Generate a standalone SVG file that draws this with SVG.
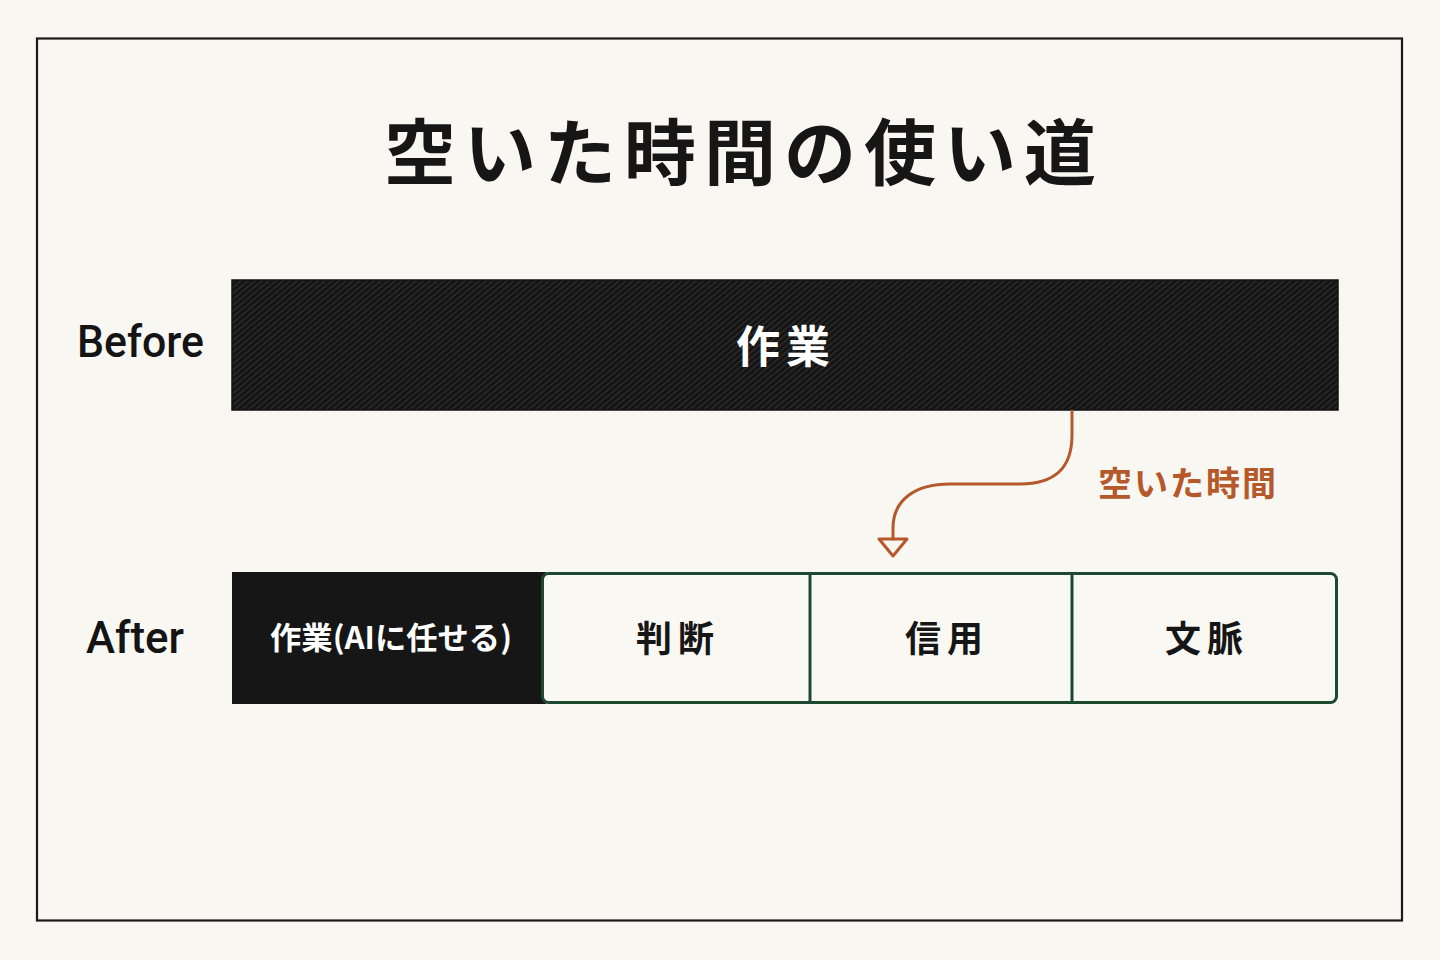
<svg xmlns="http://www.w3.org/2000/svg" width="1440" height="960" viewBox="0 0 1440 960">
  <defs>
    <pattern id="stripes" width="4.5" height="10" patternUnits="userSpaceOnUse" patternTransform="rotate(50)">
      <rect width="4.5" height="10" fill="#141414"/>
      <line x1="1" y1="0" x2="1" y2="10" stroke="#363636" stroke-width="1"/>
    </pattern>
    <style>
      .jp { font-family: "Noto Sans CJK JP", "Noto Sans", sans-serif; font-weight: 700; }
      .lat { font-family: Roboto, "Liberation Sans", Arial, sans-serif; font-weight: 500; fill: #141414; }
      .cell { fill: #faf8f3; stroke: #1d4a2f; stroke-width: 3; }
      .divider { stroke: #1d4a2f; stroke-width: 3; }
      .conn { fill: none; stroke: #b5592b; stroke-width: 3; stroke-linecap: round; stroke-linejoin: round; }
    </style>
  </defs>
  <rect width="1440" height="960" fill="#f9f7f2"/>
  <rect x="37" y="38.5" width="1365" height="882" fill="none" stroke="#1a1a1a" stroke-width="2.2"/>

  <text class="jp" x="744" y="179" font-size="72" text-anchor="middle" letter-spacing="8" fill="#161616">空いた時間の使い道</text>

  <g id="label-before"><text class="lat" x="77" y="357" font-size="44" textLength="127" lengthAdjust="spacingAndGlyphs">Before</text></g>
  <g id="label-after"><text class="lat" x="86" y="653" font-size="44" textLength="98" lengthAdjust="spacingAndGlyphs">After</text></g>

  <g id="before-bar">
    <rect x="232" y="280" width="1106" height="130" fill="url(#stripes)" stroke="#111" stroke-width="1.5"/>
    <text class="jp" x="786" y="363" font-size="44" text-anchor="middle" letter-spacing="6" fill="#ffffff">作業</text>
  </g>

  <g id="after-ai">
    <rect x="232" y="572" width="314" height="132" fill="#161616"/>
    <text class="jp" x="391" y="649" font-size="31" text-anchor="middle" textLength="242" lengthAdjust="spacingAndGlyphs" fill="#ffffff">作業(AIに任せる)</text>
  </g>

  <g id="after-human">
    <rect class="cell" x="542.5" y="573.5" width="794" height="129" rx="6"/>
  </g>
  <g id="cell-handan">
    <text class="jp" x="678" y="652" font-size="36" text-anchor="middle" letter-spacing="6" fill="#161616">判断</text>
  </g>
  <g id="cell-shinyo">
    <line class="divider" x1="810" y1="573" x2="810" y2="703"/>
    <text class="jp" x="947" y="652" font-size="36" text-anchor="middle" letter-spacing="6" fill="#161616">信用</text>
  </g>
  <g id="cell-bunmyaku">
    <line class="divider" x1="1072" y1="573" x2="1072" y2="703"/>
    <text class="jp" x="1207" y="652" font-size="36" text-anchor="middle" letter-spacing="6" fill="#161616">文脈</text>
  </g>

  <g id="connectors">
    <path class="conn" d="M1072 411 V435 C1072 468 1055 484 1020 484 H950 C915 484 893 500 893 528 V539"/>
    <polygon class="conn" points="879,539 907,539 893,556" fill="#f9f7f2"/>
    <text class="jp" x="1098" y="496" font-size="34" letter-spacing="2" fill="#b5592b">空いた時間</text>
  </g>
</svg>
